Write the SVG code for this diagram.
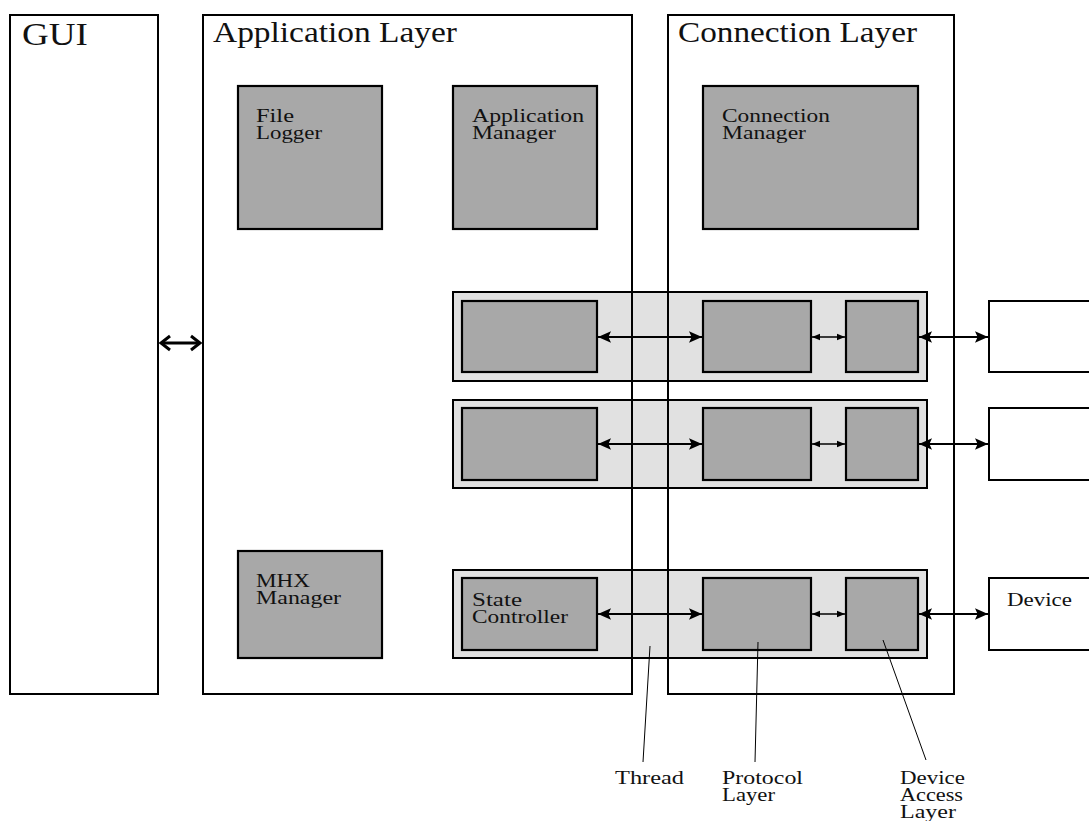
<svg xmlns="http://www.w3.org/2000/svg" width="1089" height="821" viewBox="0 0 1089 821">
  <style>
    text { font-family: "Liberation Serif", "DejaVu Serif", serif; fill: #111; }
    .layer { fill: none; stroke: #000; stroke-width: 2; }
    .comp { fill: #a8a8a8; stroke: #000; stroke-width: 2.2; }
    .band { fill: #e1e1e1; stroke: #000; stroke-width: 2; }
    .ext { fill: #fff; stroke: #000; stroke-width: 2; }
    .title { font-size: 31px; }
    .lname { font-size: 29px; }
    .lbl { font-size: 19px; }
    .link { stroke: #000; stroke-width: 2; fill: none; }
    .slink { stroke: #000; stroke-width: 1.6; fill: none; }
    .ptr { stroke: #000; stroke-width: 1; fill: none; }
  </style>
  <defs>
    <marker id="head" viewBox="0 0 10 10" refX="10" refY="5" markerWidth="6.5" markerHeight="6.5" orient="auto-start-reverse" markerUnits="strokeWidth">
      <path d="M0,0.5 L10,5 L0,9.5 L2,5 Z" fill="#000"/>
    </marker>
    <marker id="shead" viewBox="0 0 10 10" refX="10" refY="5" markerWidth="5" markerHeight="5" orient="auto-start-reverse" markerUnits="strokeWidth">
      <path d="M0,1 L10,5 L0,9 Z" fill="#000"/>
    </marker>
  </defs>

  <!-- thread bands -->
  <g id="thread-1"><rect class="band" x="453" y="292" width="474" height="89"/></g>
  <g id="thread-2"><rect class="band" x="453" y="400" width="474" height="88"/></g>
  <g id="thread-3"><rect class="band" x="453" y="570" width="474" height="88"/></g>

  <!-- layers -->
  <g id="gui">
    <rect class="layer" x="10" y="15" width="148" height="679"/>
    <text class="title" x="22" y="45" textLength="66" lengthAdjust="spacingAndGlyphs">GUI</text>
  </g>
  <g id="application-layer">
    <rect class="layer" x="203" y="15" width="429" height="679"/>
    <text class="lname" x="213" y="42" textLength="244" lengthAdjust="spacingAndGlyphs">Application Layer</text>
  </g>
  <g id="connection-layer">
    <rect class="layer" x="668" y="15" width="286" height="679"/>
    <text class="lname" x="678" y="42" textLength="239" lengthAdjust="spacingAndGlyphs">Connection Layer</text>
  </g>

  <!-- components -->
  <g id="file-logger">
    <rect class="comp" x="238" y="86" width="144" height="143"/>
    <text class="lbl" x="256" y="122" textLength="38" lengthAdjust="spacingAndGlyphs">File</text>
    <text class="lbl" x="256" y="139" textLength="66" lengthAdjust="spacingAndGlyphs">Logger</text>
  </g>
  <g id="application-manager">
    <rect class="comp" x="453" y="86" width="144" height="143"/>
    <text class="lbl" x="472" y="122" textLength="112" lengthAdjust="spacingAndGlyphs">Application</text>
    <text class="lbl" x="472" y="139" textLength="84" lengthAdjust="spacingAndGlyphs">Manager</text>
  </g>
  <g id="connection-manager">
    <rect class="comp" x="703" y="86" width="215" height="143"/>
    <text class="lbl" x="722" y="122" textLength="108" lengthAdjust="spacingAndGlyphs">Connection</text>
    <text class="lbl" x="722" y="139" textLength="84" lengthAdjust="spacingAndGlyphs">Manager</text>
  </g>
  <g id="mhx-manager">
    <rect class="comp" x="238" y="551" width="144" height="107"/>
    <text class="lbl" x="256" y="587" textLength="54" lengthAdjust="spacingAndGlyphs">MHX</text>
    <text class="lbl" x="256" y="604" textLength="85" lengthAdjust="spacingAndGlyphs">Manager</text>
  </g>

  <g id="controller-1"><rect class="comp" x="462" y="301" width="135" height="71"/></g>
  <g id="protocol-1"><rect class="comp" x="703" y="301" width="108" height="71"/></g>
  <g id="access-1"><rect class="comp" x="846" y="301" width="72" height="71"/></g>
  <g id="device-1"><rect class="ext" x="989" y="301" width="110" height="71"/></g>

  <g id="controller-2"><rect class="comp" x="462" y="408" width="135" height="72"/></g>
  <g id="protocol-2"><rect class="comp" x="703" y="408" width="108" height="72"/></g>
  <g id="access-2"><rect class="comp" x="846" y="408" width="72" height="72"/></g>
  <g id="device-2"><rect class="ext" x="989" y="408" width="110" height="72"/></g>

  <g id="state-controller">
    <rect class="comp" x="462" y="578" width="135" height="72"/>
    <text class="lbl" x="472" y="606" textLength="50" lengthAdjust="spacingAndGlyphs">State</text>
    <text class="lbl" x="472" y="623" textLength="96" lengthAdjust="spacingAndGlyphs">Controller</text>
  </g>
  <g id="protocol-3"><rect class="comp" x="703" y="578" width="108" height="72"/></g>
  <g id="access-3"><rect class="comp" x="846" y="578" width="72" height="72"/></g>
  <g id="device-3">
    <rect class="ext" x="989" y="578" width="110" height="72"/>
    <text class="lbl" x="1007" y="606" textLength="65" lengthAdjust="spacingAndGlyphs">Device</text>
  </g>

  <!-- connectors -->
  <g id="connectors">
    <!-- GUI to application layer -->
    <line x1="162" y1="343" x2="199" y2="343" stroke="#000" stroke-width="3"/>
    <path d="M170,336 L161,343 L170,350" fill="none" stroke="#000" stroke-width="3" stroke-linejoin="miter"/>
    <path d="M191,336 L200,343 L191,350" fill="none" stroke="#000" stroke-width="3" stroke-linejoin="miter"/>

    <line class="link" x1="598" y1="337" x2="702" y2="337" marker-start="url(#head)" marker-end="url(#head)"/>
    <line class="slink" x1="812" y1="337" x2="845" y2="337" marker-start="url(#shead)" marker-end="url(#shead)"/>
    <line class="link" x1="919" y1="337" x2="988" y2="337" marker-start="url(#head)" marker-end="url(#head)"/>

    <line class="link" x1="598" y1="444" x2="702" y2="444" marker-start="url(#head)" marker-end="url(#head)"/>
    <line class="slink" x1="812" y1="444" x2="845" y2="444" marker-start="url(#shead)" marker-end="url(#shead)"/>
    <line class="link" x1="919" y1="444" x2="988" y2="444" marker-start="url(#head)" marker-end="url(#head)"/>

    <line class="link" x1="598" y1="614" x2="702" y2="614" marker-start="url(#head)" marker-end="url(#head)"/>
    <line class="slink" x1="812" y1="614" x2="845" y2="614" marker-start="url(#shead)" marker-end="url(#shead)"/>
    <line class="link" x1="919" y1="614" x2="988" y2="614" marker-start="url(#head)" marker-end="url(#head)"/>

    <!-- annotation pointers -->
    <line class="ptr" x1="650" y1="646" x2="643" y2="762"/>
    <line class="ptr" x1="758" y1="642" x2="755" y2="762"/>
    <line class="ptr" x1="883" y1="640" x2="926" y2="760"/>
  </g>

  <!-- annotations -->
  <g id="annotations">
    <text class="lbl" x="615" y="784" textLength="69" lengthAdjust="spacingAndGlyphs">Thread</text>
    <text class="lbl" x="722" y="784" textLength="81" lengthAdjust="spacingAndGlyphs">Protocol</text>
    <text class="lbl" x="722" y="801" textLength="53" lengthAdjust="spacingAndGlyphs">Layer</text>
    <text class="lbl" x="900" y="784" textLength="65" lengthAdjust="spacingAndGlyphs">Device</text>
    <text class="lbl" x="900" y="801" textLength="63" lengthAdjust="spacingAndGlyphs">Access</text>
    <text class="lbl" x="900" y="818" textLength="56" lengthAdjust="spacingAndGlyphs">Layer</text>
  </g>
</svg>
